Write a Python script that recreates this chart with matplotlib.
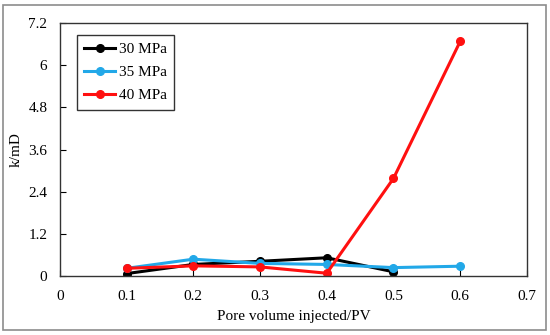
import matplotlib
matplotlib.use('Agg')
import matplotlib.pyplot as plt
from matplotlib.patches import Rectangle

plt.rcParams['font.family'] = ['Liberation Serif', 'DejaVu Serif']

# Data
pv = [0.1, 0.2, 0.3, 0.4, 0.5, 0.6]
k_30 = [0.07, 0.33, 0.42, 0.52, 0.12]
k_35 = [0.22, 0.48, 0.36, 0.33, 0.24, 0.28]
k_40 = [0.22, 0.29, 0.26, 0.08, 2.78, 6.68]

x_ticks = [0, 0.1, 0.2, 0.3, 0.4, 0.5, 0.6, 0.7]
x_labels = ['0', '0.1', '0.2', '0.3', '0.4', '0.5', '0.6', '0.7']
y_ticks = [0, 1.2, 2.4, 3.6, 4.8, 6, 7.2]
y_labels = ['0', '1.2', '2.4', '3.6', '4.8', '6', '7.2']

fig = plt.figure(figsize=(5.5, 3.35), dpi=100)
ax = fig.add_axes([0.109, 0.176, 0.849, 0.755])

# outer gray frame
fig.patches.append(Rectangle((0.006, 0.015), 0.986, 0.97, transform=fig.transFigure,
                             fill=False, edgecolor='#8c8c8c', linewidth=1.2))

ax.plot(pv[:5], k_30, color='black', marker='o', markersize=5.5, linewidth=2.2, label='30 MPa')
ax.plot(pv, k_35, color='#22a8e8', marker='o', markersize=5.5, linewidth=2.2, label='35 MPa')
ax.plot(pv, k_40, color='#ff1010', marker='o', markersize=5.5, linewidth=2.2, label='40 MPa')

ax.set_xlim(0, 0.7)
ax.set_ylim(0, 7.2)
ax.set_xticks(x_ticks)
ax.set_xticklabels(x_labels)
ax.set_yticks(y_ticks)
ax.set_yticklabels(y_labels)
ax.tick_params(direction='in', length=4, labelsize=11)
ax.tick_params(axis='x', pad=10)
ax.tick_params(axis='y', pad=9)
for s in ax.spines.values():
    s.set_linewidth(1.0)
    s.set_color('#333333')

ax.set_xlabel('Pore volume injected/PV', fontsize=11, labelpad=5)
ax.set_ylabel('k/mD', fontsize=11, labelpad=4)

leg = ax.legend(loc='upper left', bbox_to_anchor=(0.036, 0.953), fontsize=11,
                frameon=True, fancybox=False, edgecolor='black', handlelength=2.0,
                borderpad=0.5, labelspacing=0.6, handletextpad=0.25,
                borderaxespad=0)
leg.get_frame().set_linewidth(1.0)

fig.savefig('out.png', dpi=100)
